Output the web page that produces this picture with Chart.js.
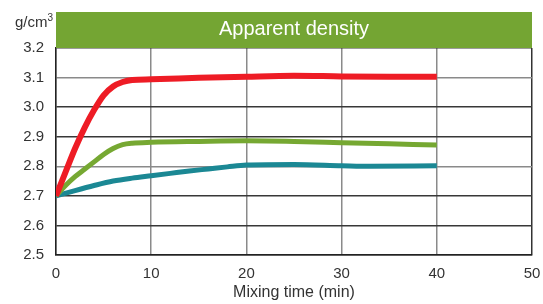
<!DOCTYPE html>
<html>
<head>
<meta charset="utf-8">
<script src="https://cdn.jsdelivr.net/npm/chart.js@4"></script>
<style>
  html, body { margin: 0; padding: 0; background: #fff; }
  #wrap { width: 543px; height: 304px; }
</style>
</head>
<body>
<div id="wrap"><canvas id="myChart" width="543" height="304"></canvas></div>
<script>
const gTitle = 'Apparent density'
const gUnit = 'g/cm'
const gXTitle = 'Mixing time (min)'

// minutes
const gRedX = [0, 1, 2, 3, 4, 5, 6, 7, 8, 10, 15, 20, 25, 30, 35, 40]
const gRedY = [2.70, 2.78, 2.86, 2.93, 2.99, 3.04, 3.07, 3.085, 3.092, 3.094, 3.099, 3.103, 3.106, 3.104, 3.103, 3.103]

const gGreenX = [0, 1, 2, 3, 4, 5, 6, 7, 8, 10, 15, 20, 25, 30, 35, 40]
const gGreenY = [2.70, 2.735, 2.765, 2.79, 2.815, 2.84, 2.86, 2.873, 2.878, 2.881, 2.884, 2.886, 2.884, 2.880, 2.876, 2.872]

const gTealX = [0, 2, 4, 6, 8, 10, 12, 14, 16, 18, 20, 25, 30, 33, 40]
const gTealY = [2.70, 2.718, 2.735, 2.750, 2.760, 2.768, 2.776, 2.784, 2.791, 2.798, 2.804, 2.806, 2.802, 2.800, 2.802]

const gFont = '"Liberation Sans", Arial, sans-serif'

function toPoints(xs, ys) {
  return xs.map((x, i) => ({ x: x, y: ys[i] }))
}

// green title band + unit label
const headerPlugin = {
  id: 'header',
  afterDraw(chart) {
    const { ctx, chartArea } = chart
    ctx.save()
    ctx.fillStyle = '#74a533'
    ctx.fillRect(chartArea.left, 12, chartArea.right - chartArea.left, chartArea.top - 12)
    ctx.fillStyle = '#fff'
    ctx.font = `20px ${gFont}`
    ctx.textAlign = 'center'
    ctx.textBaseline = 'alphabetic'
    ctx.fillText(gTitle, (chartArea.left + chartArea.right) / 2, 34.5)

    ctx.fillStyle = '#333'
    ctx.font = `15px ${gFont}`
    ctx.textAlign = 'right'
    ctx.fillText(gUnit, 47.5, 27)
    ctx.font = `10px ${gFont}`
    ctx.textAlign = 'left'
    ctx.fillText('3', 47.5, 21)
    ctx.restore()
  }
}

function displayChart() {
  const ctx = document.getElementById('myChart').getContext('2d')
  new Chart(ctx, {
    type: 'line',
    data: {
      datasets: [{
        data: toPoints(gRedX, gRedY),
        borderColor: '#ee1c25',
        borderWidth: 6
      }, {
        data: toPoints(gGreenX, gGreenY),
        borderColor: '#76a832',
        borderWidth: 5
      }, {
        data: toPoints(gTealX, gTealY),
        borderColor: '#1b8894',
        borderWidth: 5
      }]
    },
    options: {
      responsive: false,
      animation: false,
      events: [],
      layout: { padding: { top: 48, right: 11, left: 0, bottom: 0 } },
      elements: {
        point: { radius: 0 },
        line: { cubicInterpolationMode: 'monotone', borderCapStyle: 'butt' }
      },
      scales: {
        x: {
          type: 'linear',
          min: 0,
          max: 50,
          ticks: {
            stepSize: 10,
            color: '#333',
            padding: 10,
            font: { family: gFont, size: 15 }
          },
          grid: {
            drawTicks: false,
            lineWidth: 1.5,
            color: c => (c.tick && c.tick.value === 50) ? '#333' : '#8a8a8a'
          },
          border: { color: '#222', width: 1.5 },
          title: {
            display: true,
            text: gXTitle,
            color: '#333',
            padding: { top: 0, bottom: 2 },
            font: { family: gFont, size: 16 }
          },
          afterFit(scale) {
            scale.height = 49
            scale.paddingRight = 0
            scale.paddingLeft = 0
          }
        },
        y: {
          min: 2.5,
          max: 3.2,
          ticks: {
            stepSize: 0.1,
            color: '#333',
            padding: 12,
            font: { family: gFont, size: 15 },
            callback: v => v.toFixed(1)
          },
          grid: {
            drawTicks: false,
            lineWidth: 1.5,
            color: c => {
              const v = c.tick ? Math.round(c.tick.value * 10) / 10 : 0
              return (v === 3.1 || v === 2.8) ? '#8a8a8a' : '#383838'
            }
          },
          border: { color: '#222', width: 1.5 },
          afterFit(scale) {
            scale.width = 56
            scale.paddingTop = 0
            scale.paddingBottom = 0
          }
        }
      },
      plugins: {
        legend: { display: false },
        title: { display: false },
        tooltip: { enabled: false }
      }
    },
    plugins: [headerPlugin]
  })
}

displayChart()
</script>
</body>
</html>
